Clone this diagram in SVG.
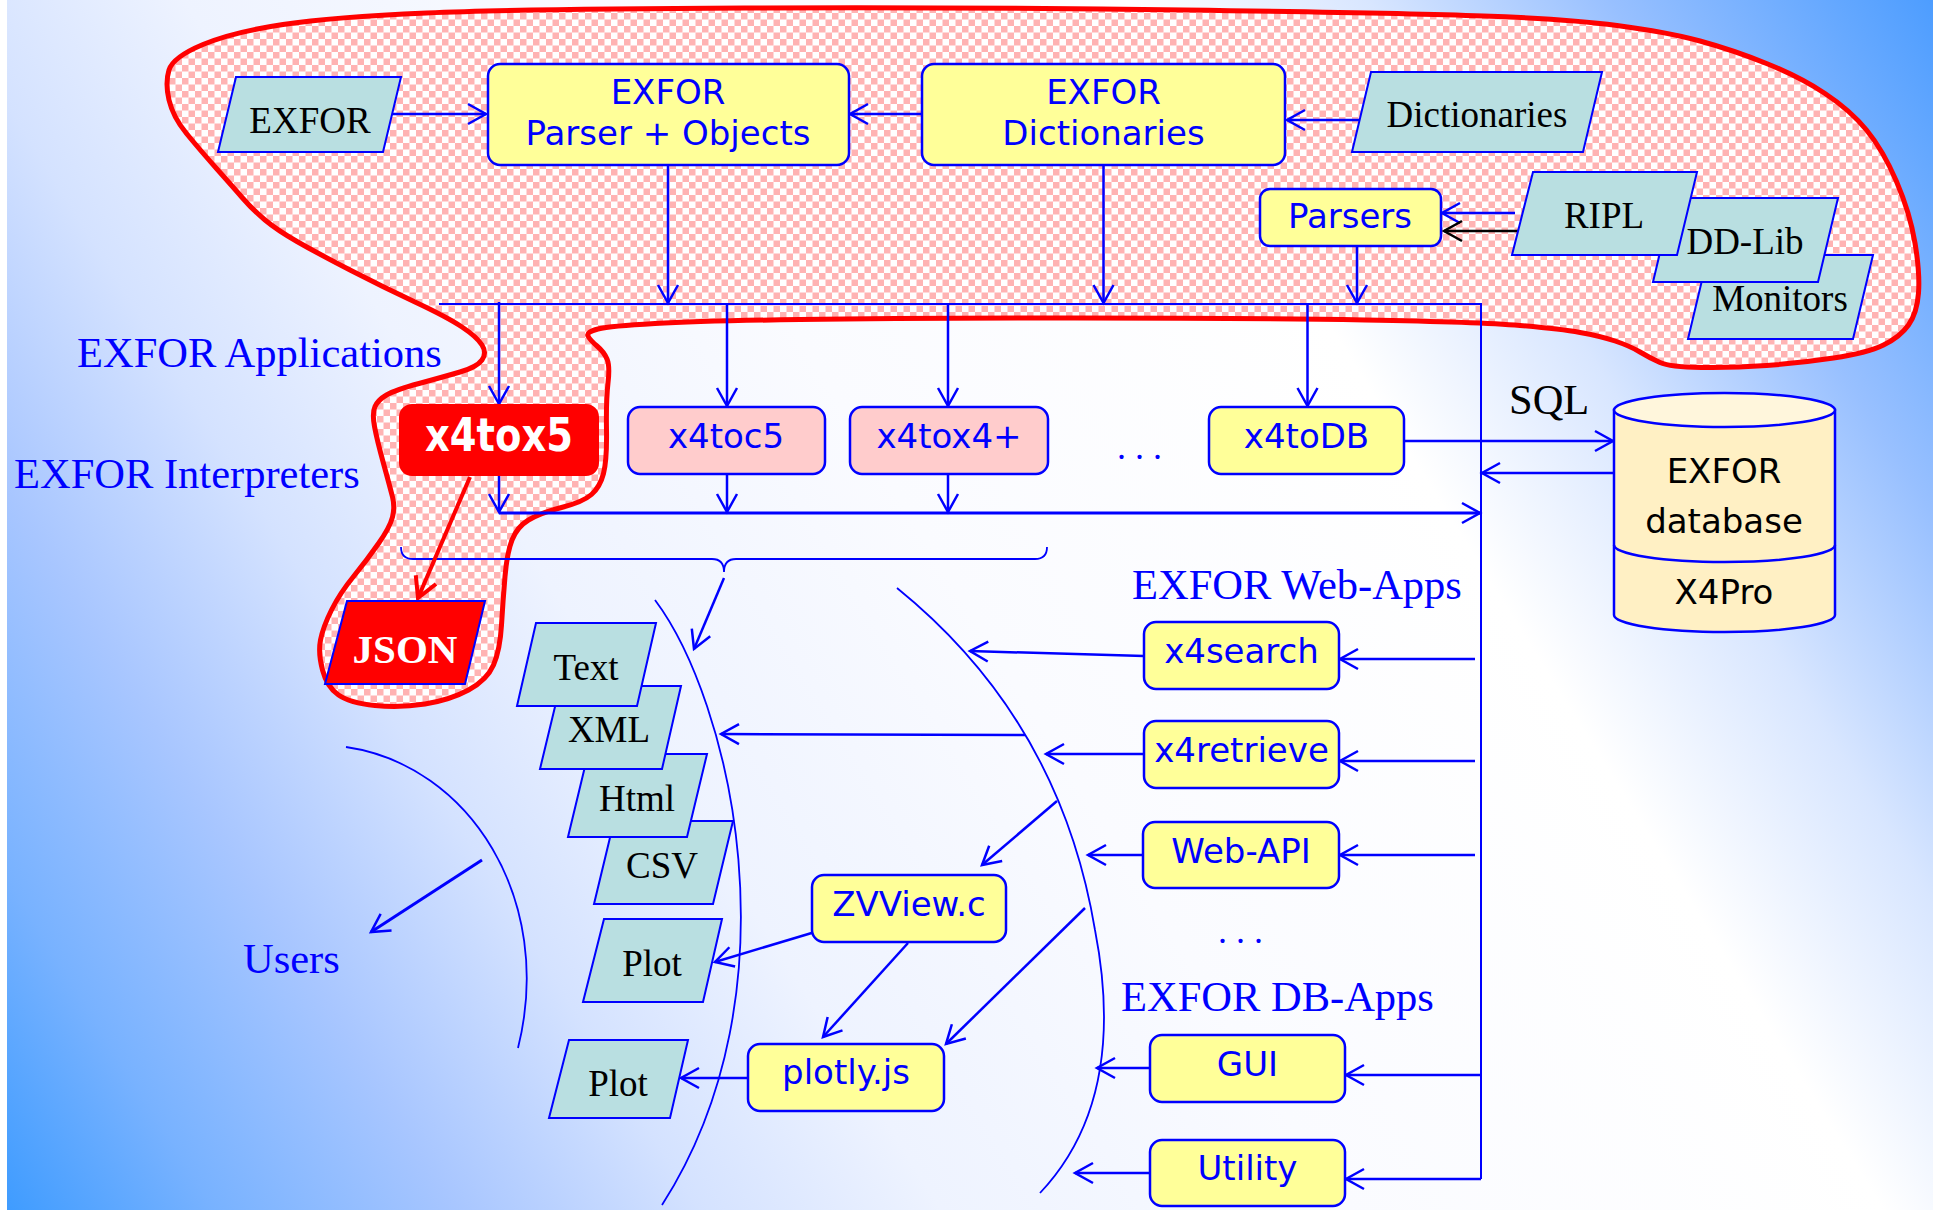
<svg xmlns="http://www.w3.org/2000/svg" width="1933" height="1210" viewBox="0 0 1933 1210">
<defs>
<linearGradient id="bg" gradientUnits="userSpaceOnUse" x1="0" y1="1210" x2="1933" y2="0">
<stop offset="0" stop-color="#3d9bff"/>
<stop offset="0.08" stop-color="#78b2ff"/>
<stop offset="0.17" stop-color="#a8c6ff"/>
<stop offset="0.26" stop-color="#d4e2ff"/>
<stop offset="0.35" stop-color="#eef3ff"/>
<stop offset="0.5" stop-color="#fafbff"/>
<stop offset="0.7" stop-color="#ffffff"/>
<stop offset="0.79" stop-color="#d8e6ff"/>
<stop offset="0.88" stop-color="#98c0ff"/>
<stop offset="1" stop-color="#4d9dff"/>
</linearGradient>
<pattern id="chk" patternUnits="userSpaceOnUse" width="13" height="13">
<rect width="13" height="13" fill="#ffffff"/>
<rect width="6.5" height="6.5" fill="#ffb3b3"/>
<rect x="6.5" y="6.5" width="6.5" height="6.5" fill="#ffb3b3"/>
</pattern>
<marker id="ah" viewBox="-22 -13 26 26" refX="0" refY="0" markerWidth="26" markerHeight="26" markerUnits="userSpaceOnUse" orient="auto">
<path d="M-18,-10 L0,0 L-18,10" fill="none" stroke="#0000ff" stroke-width="2.5"/>
</marker>
<marker id="ahk" viewBox="-22 -13 26 26" refX="0" refY="0" markerWidth="26" markerHeight="26" markerUnits="userSpaceOnUse" orient="auto">
<path d="M-18,-10 L0,0 L-18,10" fill="none" stroke="#000000" stroke-width="2.5"/>
</marker>
<marker id="ahr" viewBox="-24 -14 28 28" refX="0" refY="0" markerWidth="28" markerHeight="28" markerUnits="userSpaceOnUse" orient="auto">
<path d="M-20,-11 L0,0 L-20,11" fill="none" stroke="#ff0000" stroke-width="4"/>
</marker>
</defs>
<style>
.box{fill:#ffff99;stroke:#0000ff;stroke-width:2.5}
.pbox{fill:#ffcccc;stroke:#0000ff;stroke-width:2.5}
.para{fill:#b9dfe1;stroke:#0000ff;stroke-width:2}
.bt{font-family:"DejaVu Sans",sans-serif;font-size:34px;fill:#0000ff;text-anchor:middle}
.dbt{font-family:"DejaVu Sans",sans-serif;font-size:34px;fill:#000000;text-anchor:middle}
.pt{font-family:"Liberation Serif",serif;font-size:37px;fill:#000000;text-anchor:middle}
.lbl{font-family:"Liberation Serif",serif;font-size:42.5px;fill:#0000ff}
.c{fill:none;stroke:#0000ff;stroke-width:2.5;marker-end:url(#ah)}
.ln{fill:none;stroke:#0000ff;stroke-width:2}
.arc{fill:none;stroke:#0000ff;stroke-width:1.8}
</style>

<rect width="1933" height="1210" fill="url(#bg)"/>
<rect width="7" height="1210" fill="#ffffff"/>

<path id="blob" d="M 283,24.5 Q 333,17 426.5,13 Q 520,9 745,8 Q 970,7 1185,10 Q 1400,13 1483.5,16 Q 1567,19 1617,25.5 Q 1667,32 1700,41 Q 1733,50 1766.5,63.5 Q 1800,77 1825,93.5 Q 1850,110 1866.5,130 Q 1883,150 1896.5,181.5 Q 1910,213 1915,243 Q 1920,273 1918.5,293 Q 1917,313 1908.5,325 Q 1900,337 1883.5,345 Q 1867,353 1833.5,358 Q 1800,363 1766.5,365.5 Q 1733,368 1701.5,367.5 Q 1670,367 1660,362.5 Q 1650,358 1640,352 Q 1630,346 1615,341 Q 1600,336 1580,332.5 Q 1560,329 1520,325.5 Q 1480,322 1365,320 Q 1250,318 1075,318 Q 900,318 800,319.5 Q 700,321 655,323.5 Q 610,326 598,329 Q 586,332 588,336 Q 590,340 597,346 Q 604,352 607,359 Q 610,366 608,383 Q 606,400 606.5,430 Q 607,460 603.5,473.5 Q 600,487 591.5,494.5 Q 583,502 561.5,507.5 Q 540,513 528.5,520 Q 517,527 512,540 Q 507,553 505,576.5 Q 503,600 501.5,625 Q 500,650 493.5,665 Q 487,680 468.5,690 Q 450,700 425,704 Q 400,708 375,705.5 Q 350,703 338.5,695 Q 327,687 322.5,670 Q 318,653 320.5,640 Q 323,627 331.5,610 Q 340,593 353.5,576.5 Q 367,560 378.5,543.5 Q 390,527 392.5,517 Q 395,507 392.5,497 Q 390,487 383.5,463.5 Q 377,440 374.5,426.5 Q 372,413 375,406.5 Q 378,400 386.5,395 Q 395,390 419,383.5 Q 443,377 460,372 Q 477,367 482,360 Q 487,353 482,345 Q 477,337 462,327 Q 447,317 415,302 Q 383,287 350,270 Q 317,253 297,241.5 Q 277,230 265,220 Q 253,210 243,198.5 Q 233,187 216.5,168.5 Q 200,150 186.5,133.5 Q 173,117 169,100 Q 165,83 169,70 Q 173,57 203,44.5 Q 233,32 283,24.5 Z" fill="url(#chk)" stroke="#ff0000" stroke-width="5"/>

<g id="labels">
<text class="lbl" x="77" y="367">EXFOR Applications</text>
<text class="lbl" x="14" y="488">EXFOR Interpreters</text>
<text class="lbl" x="1132" y="599">EXFOR Web-Apps</text>
<text class="lbl" x="1121" y="1011">EXFOR DB-Apps</text>
<text class="lbl" x="243" y="973">Users</text>
<text class="lbl" x="1509" y="414" style="fill:#000000">SQL</text>
<text class="lbl" x="1117" y="459" style="font-size:36px">. . .</text>
<text class="lbl" x="1218" y="943" style="font-size:36px">. . .</text>
</g>

<g id="connectors">
<path class="ln" d="M439,304 H1481 V1179"/>
<path class="arc" d="M401,547 Q401,559 413,559 L712,559 Q724,559 724,572 Q724,559 736,559 L1035,559 Q1047,559 1047,547"/>
<path class="arc" d="M346,747 C470,765 555,900 518,1048"/>
<path class="arc" d="M655,600 C730,700 800,990 662,1205"/>
<path class="arc" d="M897,588 Q1060,720 1095,930 Q1128,1100 1040,1193"/>
<line class="c" x1="392" y1="114" x2="486" y2="114"/>
<line class="c" x1="922" y1="114" x2="850" y2="114"/>
<line class="c" x1="1359" y1="120" x2="1287" y2="120"/>
<line class="c" x1="1515" y1="213" x2="1442" y2="213"/>
<line x1="1519" y1="231" x2="1444" y2="231" stroke="#000000" stroke-width="2.5" marker-end="url(#ahk)"/>
<line class="c" x1="668" y1="165" x2="668" y2="303"/>
<line class="c" x1="1103.5" y1="165" x2="1103.5" y2="303"/>
<line class="c" x1="1357" y1="246" x2="1357" y2="303"/>
<line class="c" x1="499" y1="302" x2="499" y2="404"/>
<line class="c" x1="727" y1="304" x2="727" y2="406"/>
<line class="c" x1="948" y1="304" x2="948" y2="406"/>
<line class="c" x1="1307.5" y1="304" x2="1307.5" y2="406"/>
<line class="c" x1="1404" y1="441" x2="1613" y2="441"/>
<line class="c" x1="1614" y1="473" x2="1482" y2="473"/>
<line class="c" x1="499" y1="513" x2="1480" y2="513" style="stroke-width:3"/>
<line class="c" x1="499" y1="476" x2="499" y2="512"/>
<line class="c" x1="727" y1="474" x2="727" y2="512"/>
<line class="c" x1="948" y1="474" x2="948" y2="512"/>
<line x1="470" y1="477" x2="418" y2="598" stroke="#ff0000" stroke-width="4" marker-end="url(#ahr)"/>
<line class="c" x1="724" y1="578" x2="694" y2="649"/>
<line class="c" x1="1144" y1="656" x2="970" y2="651"/>
<line class="c" x1="1475" y1="659" x2="1340" y2="659"/>
<line class="c" x1="1144" y1="754" x2="1046" y2="754"/>
<line class="c" x1="1475" y1="761" x2="1340" y2="761"/>
<line class="c" x1="1025" y1="735" x2="721" y2="734"/>
<line class="c" x1="1057" y1="801" x2="982" y2="865"/>
<line class="c" x1="1143" y1="855" x2="1088" y2="855"/>
<line class="c" x1="1475" y1="855" x2="1340" y2="855"/>
<line class="c" x1="815" y1="932" x2="715" y2="962"/>
<line class="c" x1="908" y1="943" x2="823" y2="1037"/>
<line class="c" x1="1085" y1="908" x2="946" y2="1044"/>
<line class="c" x1="748" y1="1078" x2="681" y2="1078"/>
<line class="c" x1="1150" y1="1068" x2="1097" y2="1068"/>
<line class="c" x1="1481" y1="1075" x2="1346" y2="1075"/>
<line class="c" x1="1150" y1="1173" x2="1075" y2="1173"/>
<line class="c" x1="1481" y1="1179" x2="1346" y2="1179"/>
<line class="c" x1="482" y1="860" x2="371" y2="932" style="stroke-width:3"/>
</g>

<g id="exfor"><polygon class="para" points="236,77 401,77 383,152 218,152"/><text class="pt" x="310" y="133">EXFOR</text></g>
<g id="parser"><rect class="box" x="488" y="64" width="361" height="101" rx="12"/><text class="bt" x="668" y="104">EXFOR</text><text class="bt" x="668" y="145">Parser + Objects</text></g>
<g id="exfordict"><rect class="box" x="922" y="64" width="363" height="101" rx="12"/><text class="bt" x="1103.5" y="104">EXFOR</text><text class="bt" x="1103.5" y="145">Dictionaries</text></g>
<g id="dictionaries"><polygon class="para" points="1371,72 1602,72 1583,152 1352,152"/><text class="pt" x="1477" y="127">Dictionaries</text></g>
<g id="parsers"><rect class="box" x="1260" y="189" width="181" height="57" rx="10"/><text class="bt" x="1350" y="228">Parsers</text></g>
<g id="monitors"><polygon class="para" points="1708,255 1873,255 1853,339 1688,339"/><text class="pt" x="1780" y="311">Monitors</text></g>
<g id="ddlib"><polygon class="para" points="1673,198 1838,198 1818,282 1653,282"/><text class="pt" x="1745" y="254">DD-Lib</text></g>
<g id="ripl"><polygon class="para" points="1533,172 1697,172 1677,255 1512,255"/><text class="pt" x="1604" y="228">RIPL</text></g>

<g id="x4tox5"><rect x="400" y="405" width="198" height="70" rx="12" fill="#ff0000" stroke="#ff0000" stroke-width="2"/><text x="499" y="451" text-anchor="middle" font-family="DejaVu Sans, sans-serif" font-weight="bold" font-size="46" fill="#ffffff" textLength="148" lengthAdjust="spacingAndGlyphs">x4tox5</text></g>
<g id="x4toc5"><rect class="pbox" x="628" y="407" width="197" height="67" rx="12"/><text class="bt" x="726" y="448">x4toc5</text></g>
<g id="x4tox4"><rect class="pbox" x="850" y="407" width="198" height="67" rx="12"/><text class="bt" x="949" y="448">x4tox4+</text></g>
<g id="x4todb"><rect class="box" x="1209" y="407" width="195" height="67" rx="12"/><text class="bt" x="1306.5" y="448">x4toDB</text></g>

<g id="database">
<path d="M1614,410 L1614,615 A110.5,17 0 0 0 1835,615 L1835,410 Z" fill="#fff0c4" stroke="#0000ff" stroke-width="2.5"/>
<ellipse cx="1724.5" cy="410" rx="110.5" ry="17" fill="#fff6dc" stroke="#0000ff" stroke-width="2.5"/>
<path d="M1614,545 A110.5,17 0 0 0 1835,545" fill="none" stroke="#0000ff" stroke-width="2.5"/>
<text class="dbt" x="1724" y="483">EXFOR</text>
<text class="dbt" x="1724" y="533">database</text>
<text class="dbt" x="1724" y="604">X4Pro</text>
</g>

<g id="json"><polygon points="347,601 485,601 465,684 325,684" fill="#ff0000" stroke="#0000ff" stroke-width="2"/><text x="405" y="663" text-anchor="middle" font-family="Liberation Serif, serif" font-weight="bold" font-size="41" fill="#ffffff">JSON</text></g>

<g id="csv"><polygon class="para" points="614,821 733,821 713,904 594,904"/><text class="pt" x="662" y="878">CSV</text></g>
<g id="html"><polygon class="para" points="588,754 707,754 687,837 568,837"/><text class="pt" x="637" y="811">Html</text></g>
<g id="xml"><polygon class="para" points="560,686 681,686 662,769 540,769"/><text class="pt" x="609" y="742">XML</text></g>
<g id="text"><polygon class="para" points="536,623 656,623 637,706 517,706"/><text class="pt" x="586" y="680">Text</text></g>
<g id="plot1"><polygon class="para" points="604,919 722,919 703,1002 583,1002"/><text class="pt" x="652" y="976">Plot</text></g>
<g id="plot2"><polygon class="para" points="569,1040 688,1040 670,1118 549,1118"/><text class="pt" x="618" y="1096">Plot</text></g>

<g id="x4search"><rect class="box" x="1144" y="622" width="195" height="67" rx="12"/><text class="bt" x="1241.5" y="663">x4search</text></g>
<g id="x4retrieve"><rect class="box" x="1144" y="721" width="195" height="67" rx="12"/><text class="bt" x="1241.5" y="762">x4retrieve</text></g>
<g id="webapi"><rect class="box" x="1143" y="822" width="196" height="66" rx="12"/><text class="bt" x="1241" y="863">Web-API</text></g>
<g id="zvview"><rect class="box" x="812" y="875" width="194" height="67" rx="12"/><text class="bt" x="909" y="916">ZVView.c</text></g>
<g id="plotly"><rect class="box" x="748" y="1044" width="196" height="67" rx="12"/><text class="bt" x="846" y="1084">plotly.js</text></g>
<g id="gui"><rect class="box" x="1150" y="1035" width="195" height="67" rx="12"/><text class="bt" x="1247.5" y="1076">GUI</text></g>
<g id="utility"><rect class="box" x="1150" y="1140" width="195" height="66" rx="12"/><text class="bt" x="1247.5" y="1180">Utility</text></g>
</svg>
